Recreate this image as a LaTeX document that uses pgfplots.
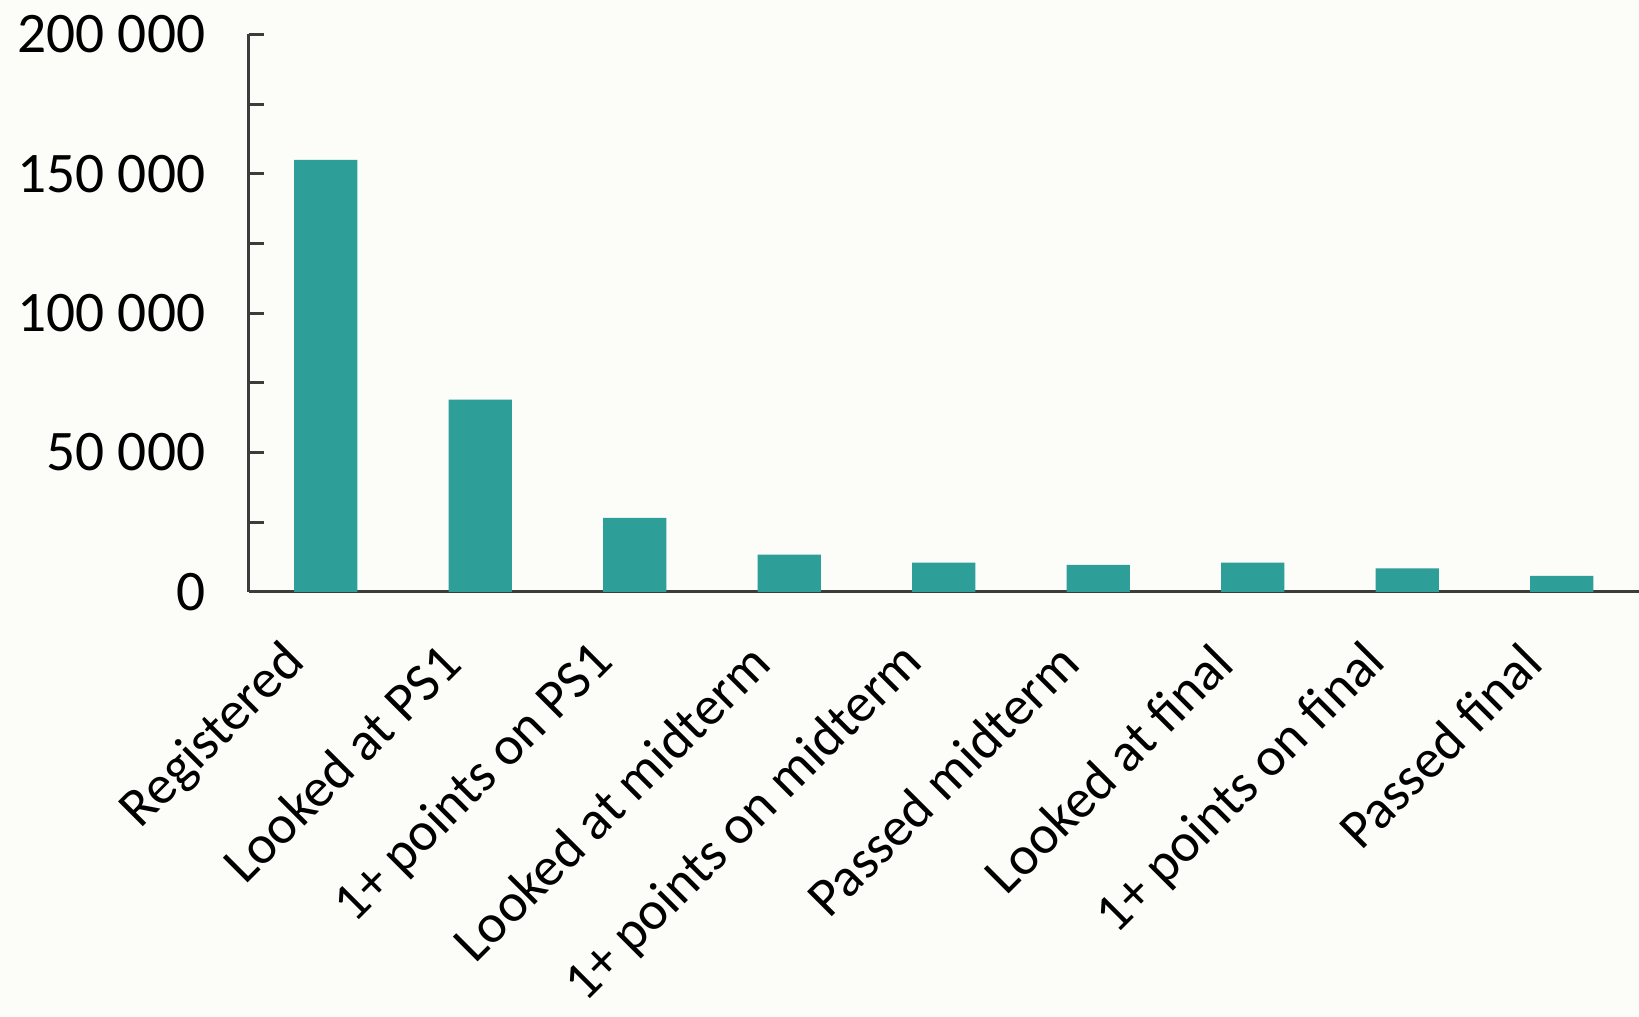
\documentclass[border=0pt]{standalone}
\usepackage{fontspec}
\setmainfont{Carlito}
\usepackage{pgfplots}
\pgfplotsset{compat=1.18}
\definecolor{barteal}{RGB}{46,158,152}
\definecolor{axisgray}{RGB}{60,60,60}
\definecolor{bg}{RGB}{252,252,249}
\begin{document}
\begin{tikzpicture}
\fill[bg] (-91pt,-155.6pt) rectangle (509pt,216.7pt);
\path[use as bounding box] (-91pt,-155.6pt) rectangle (509pt,216.7pt);
\begin{axis}[
  at={(0,0)}, anchor=south west,
  scale only axis, width=509pt, height=204.1pt,
  axis x line*=bottom, axis y line*=left,
  xmin=-0.5, xmax=8.5, ymin=0, ymax=200000,
  ytick={0,50000,100000,150000,200000},
  yticklabels={0,50 000,100 000,150 000,200 000},
  minor ytick={25000,75000,125000,175000},
  scaled y ticks=false,
  xtick={0,...,8},
  xticklabels={Registered,Looked at PS1,1+ points on PS1,Looked at midterm,1+ points on midterm,Passed midterm,Looked at final,1+ points on final,Passed final},
  xtick style={draw=none},
  ytick style={axisgray, line width=1.1pt},
  minor tick style={axisgray, line width=1.1pt},
  tick align=inside, major tick length=5.5pt, minor tick length=5.5pt,
  axis line style={axisgray, line width=1.1pt},
  ticklabel style={text=black},
  yticklabel style={font=\fontsize{21}{25}\selectfont, inner sep=0pt, xshift=-15.7pt},
  xticklabel style={font=\fontsize{20}{24}\selectfont, xshift=-10.7pt, rotate=45, anchor=east, inner sep=0pt},
  xticklabel shift=17pt,
  ybar, bar width=0.41,
]
\addplot[fill=barteal, draw=none] coordinates {
  (0,155000) (1,69000) (2,26600) (3,13400) (4,10500) (5,9700) (6,10500) (7,8500) (8,5800)
};
\end{axis}
\end{tikzpicture}
\end{document}
